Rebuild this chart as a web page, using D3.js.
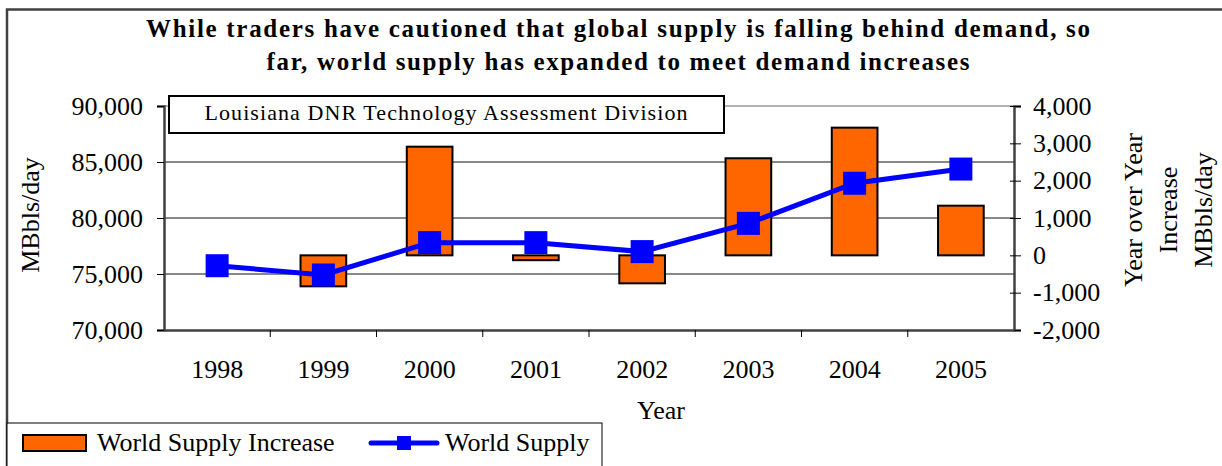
<!DOCTYPE html>
<html>
<head>
<meta charset="utf-8">
<script src="https://cdn.jsdelivr.net/npm/d3@7"></script>
<style>
  body { margin: 0; background: #fff; }
  svg text { font-family: "Liberation Serif", "Times New Roman", serif; fill: #000; }
</style>
</head>
<body>
<svg id="chart" width="1222" height="466"></svg>
<script>
// chart data
var years = ["1998", "1999", "2000", "2001", "2002", "2003", "2004", "2005"];
var supplyIncrease = [null, -830, 2910, -130, -750, 2600, 3420, 1330];
var worldSupply = [75740, 74910, 77800, 77800, 77000, 79520, 83100, 84370];
var leftTicks = [70000, 75000, 80000, 85000, 90000];
var rightTicks = [-2000, -1000, 0, 1000, 2000, 3000, 4000];
var titleLines = [
    "While traders have cautioned that global supply is falling behind demand, so",
    "far, world supply has expanded to meet demand increases"
];

var svg = d3.select("#chart");
var margin = {top: 106, right: 208, bottom: 136, left: 164};
var width = 1222 - margin.left - margin.right;
var height = 466 - margin.top - margin.bottom;
var fmt = function (d) { return d3.format(",")(d).replace("\u2212", "-"); };
var fs = 26;

// outer frame (top + left edge only visible)
svg.append("path")
    .attr("d", "M7,466 V9.5 H1222")
    .attr("fill", "none")
    .attr("stroke", "#404040")
    .attr("stroke-width", 2.5);

// title
svg.selectAll(".title")
    .data(titleLines)
    .enter().append("text")
    .attr("class", "title")
    .attr("x", 618)
    .attr("y", function (d, i) { return 37 + i * 33; })
    .attr("text-anchor", "middle")
    .attr("font-size", 25)
    .attr("font-weight", "bold")
    .attr("textLength", function (d, i) { return i == 0 ? 944 : 703; })
    .attr("lengthAdjust", "spacing")
    .text(function (d) { return d; });

var g = svg.append("g").attr("transform", "translate(" + margin.left + "," + margin.top + ")");

var x = d3.scaleBand().domain(years).range([0, width]).paddingInner(0.57).paddingOuter(0.285);
var xb = d3.scaleBand().domain(years).range([0, width]);
var yL = d3.scaleLinear().domain([70000, 90000]).range([height, 0]);
var yR = d3.scaleLinear().domain([-2000, 4000]).range([height, 0]);

// gridlines
g.append("g")
    .selectAll("line")
    .data(leftTicks.slice(1))
    .enter().append("line")
    .attr("x1", 0).attr("x2", width)
    .attr("y1", function (d) { return yL(d); })
    .attr("y2", function (d) { return yL(d); })
    .attr("stroke", function (d) { return d == 90000 ? "#666" : "#111"; })
    .attr("stroke-width", 1);

// note box
var note = g.append("g");
note.append("rect")
    .attr("x", 5).attr("y", -10)
    .attr("width", 555).attr("height", 37)
    .attr("fill", "#fff")
    .attr("stroke", "#000")
    .attr("stroke-width", 2);
note.append("text")
    .attr("x", 282).attr("y", 14)
    .attr("text-anchor", "middle")
    .attr("font-size", 22)
    .attr("textLength", 483)
    .attr("lengthAdjust", "spacing")
    .text("Louisiana DNR Technology Assessment Division");

// bars
g.append("g")
    .selectAll("rect")
    .data(years.map(function (y, i) { return {year: y, v: supplyIncrease[i]}; })
        .filter(function (d) { return d.v != null; }))
    .enter().append("rect")
    .attr("x", function (d) { return x(d.year); })
    .attr("width", x.bandwidth())
    .attr("y", function (d) { return yR(Math.max(0, d.v)); })
    .attr("height", function (d) { return Math.abs(yR(d.v) - yR(0)); })
    .attr("fill", "#FF6600")
    .attr("stroke", "#000")
    .attr("stroke-width", 2);

// line
var cx = function (d, i) { return xb(years[i]) + xb.bandwidth() / 2; };
var line = d3.line()
    .x(cx)
    .y(function (d) { return yL(d); });

g.append("path")
    .datum(worldSupply)
    .attr("d", line)
    .attr("fill", "none")
    .attr("stroke", "#0000FF")
    .attr("stroke-width", 5);

g.append("g")
    .selectAll("rect")
    .data(worldSupply)
    .enter().append("rect")
    .attr("x", function (d, i) { return cx(d, i) - 11.5; })
    .attr("y", function (d) { return yL(d) - 11.5; })
    .attr("width", 23).attr("height", 23)
    .attr("fill", "#0000FF");

// axes
var axL = g.append("g")
    .call(d3.axisLeft(yL).tickValues(leftTicks).tickFormat(fmt).tickSize(7).tickPadding(14));
var axR = g.append("g")
    .attr("transform", "translate(" + width + ",0)")
    .call(d3.axisRight(yR).tickValues(rightTicks).tickFormat(fmt).tickSize(7).tickPadding(12));
var axB = g.append("g")
    .attr("transform", "translate(0," + height + ")")
    .call(d3.axisBottom(xb).tickSize(0).tickPadding(30));

// x ticks on band boundaries
axB.selectAll(".sep")
    .data(years.slice(1))
    .enter().append("line")
    .attr("class", "sep")
    .attr("x1", function (d) { return xb(d); })
    .attr("x2", function (d) { return xb(d); })
    .attr("y1", 0).attr("y2", 7)
    .attr("stroke", "#000");

[axL, axR, axB].forEach(function (a) {
    a.select(".domain").attr("stroke", "#404040").attr("stroke-width", 2.5);
    a.selectAll("text").attr("font-size", fs).attr("fill", "#000");
});
axL.selectAll(".tick line").attr("x2", -7);
axR.selectAll(".tick line").attr("x1", -4);

// axis titles
svg.append("text")
    .attr("transform", "translate(39,215) rotate(-90)")
    .attr("text-anchor", "middle")
    .attr("font-size", fs)
    .text("MBbls/day");

svg.append("text")
    .attr("x", 661).attr("y", 419)
    .attr("text-anchor", "middle")
    .attr("font-size", fs)
    .text("Year");

var rightTitle = ["Year over Year", "Increase", "MBbls/day"];
svg.selectAll(".rt")
    .data(rightTitle)
    .enter().append("text")
    .attr("class", "rt")
    .attr("transform", function (d, i) { return "translate(" + (1142 + i * 35) + ",210) rotate(-90)"; })
    .attr("text-anchor", "middle")
    .attr("font-size", fs)
    .text(function (d) { return d; });

// legend
var lg = svg.append("g");
lg.append("rect")
    .attr("x", 7).attr("y", 423)
    .attr("width", 595).attr("height", 50)
    .attr("fill", "#fff")
    .attr("stroke", "#000")
    .attr("stroke-width", 1);
lg.append("rect")
    .attr("x", 23).attr("y", 435)
    .attr("width", 63).attr("height", 16)
    .attr("fill", "#FF6600")
    .attr("stroke", "#000")
    .attr("stroke-width", 2);
lg.append("text")
    .attr("x", 97).attr("y", 451)
    .attr("font-size", fs)
    .text("World Supply Increase");
lg.append("line")
    .attr("x1", 371).attr("x2", 437)
    .attr("y1", 443).attr("y2", 443)
    .attr("stroke", "#0000FF")
    .attr("stroke-width", 5)
    .attr("stroke-linecap", "round");
lg.append("rect")
    .attr("x", 397).attr("y", 436)
    .attr("width", 14).attr("height", 14)
    .attr("fill", "#0000FF");
lg.append("text")
    .attr("x", 445).attr("y", 451)
    .attr("font-size", fs)
    .text("World Supply");
</script>
</body>
</html>
